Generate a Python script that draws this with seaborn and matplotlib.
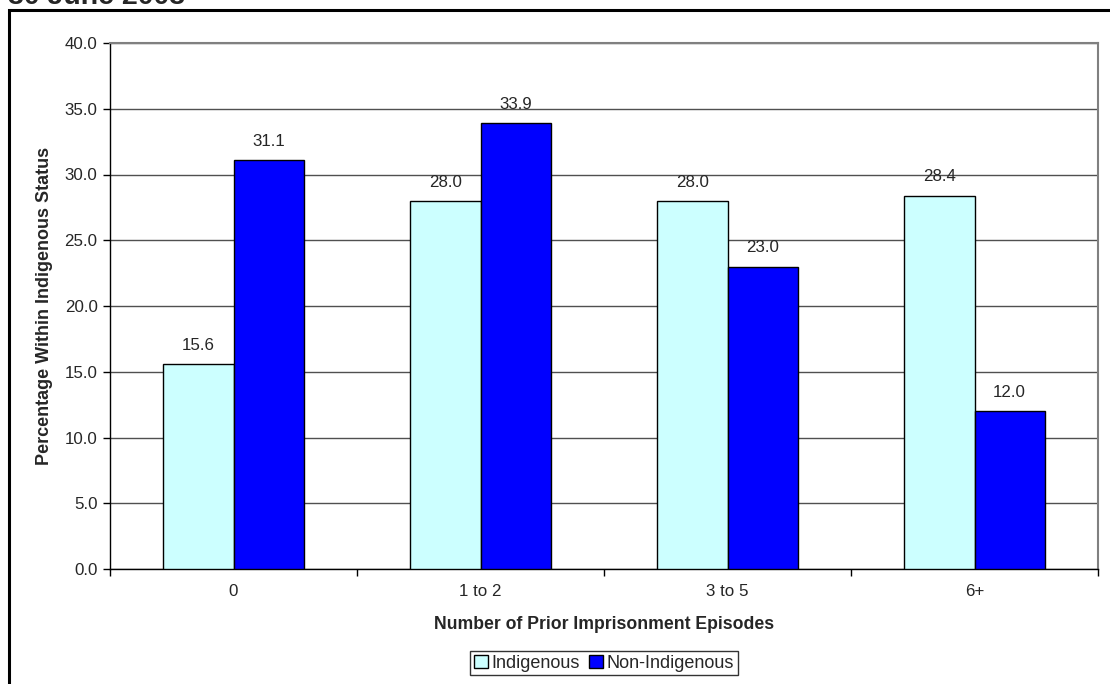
import matplotlib
matplotlib.use("Agg")
import matplotlib.pyplot as plt
import seaborn as sns
import pandas as pd
import numpy as np
from matplotlib.patches import Rectangle, Patch

categories = ["0", "1 to 2", "3 to 5", "6+"]
indigenous = [15.6, 28.0, 28.0, 28.4]
non_indigenous = [31.1, 33.9, 23.0, 12.0]
series = ["Indigenous", "Non-Indigenous"]
colors = ["#CCFFFF", "#0000FF"]

df = pd.DataFrame({
    "cat": categories * 2,
    "val": indigenous + non_indigenous,
    "grp": [series[0]] * 4 + [series[1]] * 4,
})

sns.set_theme(style="white")
plt.rcParams["font.family"] = ["Liberation Sans", "DejaVu Sans"]

fig = plt.figure(figsize=(11.1, 6.84), dpi=100)
ax = fig.add_axes([110/1110, 1-569/684, (1098-110)/1110, (569-43)/684])

sns.barplot(data=df, x="cat", y="val", hue="grp", order=categories, hue_order=series,
            palette=colors, width=0.567, gap=0, edgecolor="black", linewidth=1,
            saturation=1, ax=ax, legend=False, zorder=3)

ax.set_ylim(0, 40)
ax.set_xlim(-0.5, 3.5)
ax.set_yticks(np.arange(0, 40.1, 5))
ax.set_yticklabels([f"{v:.1f}" for v in np.arange(0, 40.1, 5)], fontsize=12.2)
ax.yaxis.grid(True, color="#505050", linewidth=1, zorder=0)
ax.set_axisbelow(True)
ax.tick_params(axis="y", direction="out", length=5, width=1, color="black", pad=4, left=True)
ax.tick_params(axis="x", which="major", length=0, pad=11, labelsize=12.2)
ax.set_xticks(np.arange(-0.5, 3.6, 1), minor=True)
ax.tick_params(axis="x", which="minor", direction="out", length=5, width=1, color="black", bottom=True)

for c in ax.containers:
    ax.bar_label(c, fmt="%.1f", padding=8, fontsize=12.2)

for s in ["left", "bottom"]:
    ax.spines[s].set_color("black")
    ax.spines[s].set_linewidth(1)
for s in ["top", "right"]:
    ax.spines[s].set_color("#808080")
    ax.spines[s].set_linewidth(1.5)

ax.set_xlabel("Number of Prior Imprisonment Episodes", fontsize=12.7, fontweight="bold", labelpad=12)
ax.set_ylabel("Percentage Within Indigenous Status", fontsize=13, fontweight="bold", labelpad=8)

handles = [Patch(facecolor=colors[i], edgecolor="black", label=series[i]) for i in range(2)]
leg = fig.legend(handles=handles, loc="center", bbox_to_anchor=(604/1110, 1-663/684), ncol=2,
                 fontsize=13, frameon=True, fancybox=False, edgecolor="black",
                 handlelength=0.75, handleheight=0.75, handletextpad=0.2, columnspacing=0.5,
                 borderpad=0.22, borderaxespad=0)
leg.get_frame().set_linewidth(1)

fig.patches.append(Rectangle((9/1110, -0.1), 1.2, 1.1 - 10/684, transform=fig.transFigure,
                             fill=False, edgecolor="black", linewidth=2.2, zorder=10))
fig.text(8/1110, 1-4/684, "30 June 2003", fontsize=20.5, fontweight="bold", va="baseline", ha="left")

fig.savefig("out.png", dpi=100)
